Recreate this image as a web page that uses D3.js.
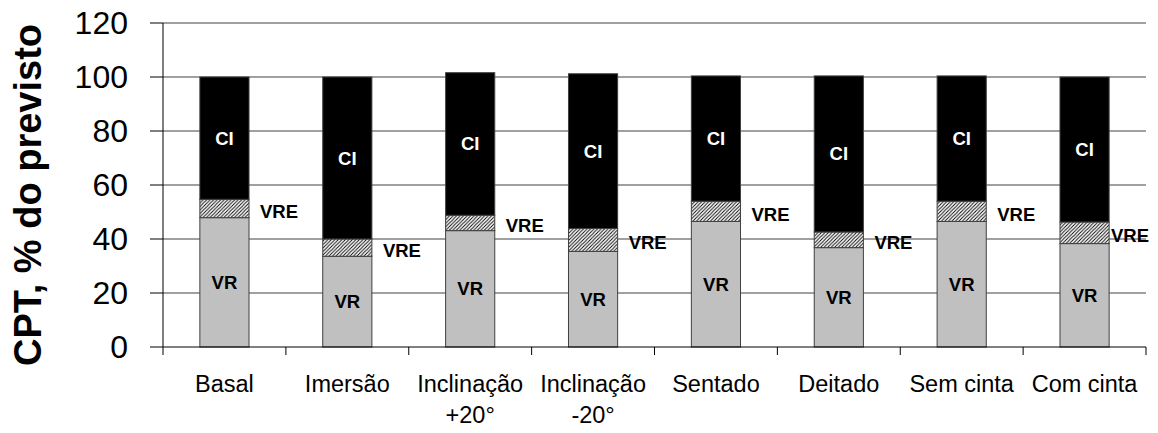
<!DOCTYPE html>
<html>
<head>
<meta charset="utf-8">
<script src="https://cdnjs.cloudflare.com/ajax/libs/d3/7.8.5/d3.min.js"></script>
<style>
  body { margin: 0; background: #fff; }
  svg { display: block; font-family: 'Liberation Sans', Arial, sans-serif; }
</style>
</head>
<body>
<div id="chart"></div>
<script>
// data
var categories = ['Basal', 'Imersão', 'Inclinação\n+20°', 'Inclinação\n-20°', 'Sentado', 'Deitado', 'Sem cinta', 'Com cinta'];
var vr  = [47.9, 33.6, 43.1, 35.4, 46.5, 36.8, 46.5, 38.3];
var vre = [6.8, 6.4, 5.7, 8.5, 7.5, 5.8, 7.5, 8.0];
var ci  = [45.3, 60.0, 52.8, 57.3, 46.4, 57.8, 46.4, 53.7];
var yTicks = [0, 20, 40, 60, 80, 100, 120];
var yTitle = 'CPT, % do previsto';

var W = 1158, H = 433;
var margin = {top: 23, right: 12, bottom: 86, left: 163},
    width = W - margin.left - margin.right,
    height = H - margin.top - margin.bottom;

var svg = d3.select('#chart').append('svg')
    .attr('width', W)
    .attr('height', H);

// hatch pattern for VRE
var defs = svg.append('defs');
defs.append('pattern')
    .attr('id', 'hatch')
    .attr('patternUnits', 'userSpaceOnUse')
    .attr('width', 3.5)
    .attr('height', 3.5)
  .call(function(p) {
    p.append('rect').attr('width', 3.5).attr('height', 3.5).attr('fill', '#fff');
    p.append('path')
      .attr('d', 'M-1,1 l2,-2 M0,3.5 l3.5,-3.5 M2.5,4.5 l2,-2')
      .attr('stroke', '#000')
      .attr('stroke-width', 0.9);
  });

var g = svg.append('g')
    .attr('transform', 'translate(' + margin.left + ',' + margin.top + ')');

var x = d3.scaleBand().domain(categories).range([0, width]).paddingInner(0.6).paddingOuter(0.3);
var y = d3.scaleLinear().domain([0, 120]).range([height, 0]);
var step = x.step();

// gridlines
g.selectAll('.grid')
    .data(yTicks.slice(1))
    .enter().append('line')
    .attr('x1', 0).attr('x2', width)
    .attr('y1', function(d) { return y(d); })
    .attr('y2', function(d) { return y(d); })
    .attr('stroke', '#808080')
    .attr('stroke-width', 1.3);

// stacked segments
var rows = categories.map(function(c, i) {
  return {cat: c, vr: vr[i], vre: vre[i], ci: ci[i]};
});
var stack = d3.stack().keys(['vr', 'vre', 'ci'])(rows);
var fills = {vr: '#c0c0c0', vre: 'url(#hatch)', ci: '#000'};

stack.forEach(function(layer) {
  g.selectAll('.seg-' + layer.key)
      .data(layer)
      .enter().append('rect')
      .attr('x', function(d) { return x(d.data.cat); })
      .attr('y', function(d) { return y(d[1]); })
      .attr('width', x.bandwidth())
      .attr('height', function(d) { return y(d[0]) - y(d[1]); })
      .attr('fill', fills[layer.key])
      .attr('stroke', '#404040')
      .attr('stroke-width', 1);
});

// labels inside bars
var labelFont = 'bold 18.5px "Liberation Sans", Arial, sans-serif';
[['vr', 'VR', '#000'], ['ci', 'CI', '#fff']].forEach(function(k) {
  var layer = stack.filter(function(l) { return l.key === k[0]; })[0];
  g.selectAll('.lab-' + k[0])
      .data(layer)
      .enter().append('text')
      .attr('x', function(d) { return x(d.data.cat) + x.bandwidth() / 2; })
      .attr('y', function(d) { return y((d[0] + d[1]) / 2); })
      .attr('text-anchor', 'middle')
      .attr('dominant-baseline', 'central')
      .style('font', labelFont)
      .attr('fill', k[2])
      .text(k[1]);
});

// VRE labels to the right of each bar
var vreLayer = stack.filter(function(l) { return l.key === 'vre'; })[0];
g.selectAll('.lab-vre')
    .data(vreLayer)
    .enter().append('text')
    .attr('y', function(d) { return y((d[0] + d[1]) / 2) + 3; })
    .attr('dominant-baseline', 'central')
    .style('font', labelFont)
    .attr('fill', '#000')
    .text('VRE')
    .attr('x', function(d) {
      var w = this.getComputedTextLength();
      var right = x(d.data.cat) + x.bandwidth();
      return Math.min(right + 11, W - margin.left - 9 - w);
    });

// y axis
g.append('line')
    .attr('x1', 0).attr('x2', 0)
    .attr('y1', y(120)).attr('y2', y(0))
    .attr('stroke', '#000');
g.selectAll('.ytick')
    .data(yTicks)
    .enter().append('line')
    .attr('x1', -13).attr('x2', 0)
    .attr('y1', function(d) { return y(d); })
    .attr('y2', function(d) { return y(d); })
    .attr('stroke', '#000');
g.selectAll('.ylab')
    .data(yTicks)
    .enter().append('text')
    .attr('x', -35)
    .attr('y', function(d) { return y(d); })
    .attr('text-anchor', 'end')
    .attr('dominant-baseline', 'central')
    .style('font-size', '32px')
    .attr('fill', '#000')
    .text(function(d) { return d; });

// x axis
g.append('line')
    .attr('x1', 0).attr('x2', width)
    .attr('y1', height).attr('y2', height)
    .attr('stroke', '#000');
g.selectAll('.xtick')
    .data(d3.range(categories.length + 1))
    .enter().append('line')
    .attr('x1', function(i) { return i * step; })
    .attr('x2', function(i) { return i * step; })
    .attr('y1', height).attr('y2', height + 8)
    .attr('stroke', '#000');

var xl = g.selectAll('.xlab')
    .data(categories)
    .enter().append('text')
    .attr('x', function(d) { return x(d) + x.bandwidth() / 2; })
    .attr('y', height + 45)
    .attr('text-anchor', 'middle')
    .style('font-size', '23.5px')
    .attr('fill', '#000');
xl.each(function(d) {
  var t = d3.select(this);
  d.split('\n').forEach(function(line, i) {
    t.append('tspan')
      .attr('x', t.attr('x'))
      .attr('dy', i === 0 ? 0 : 31)
      .text(line);
  });
});

// y axis title
svg.append('text')
    .attr('transform', 'translate(41,' + (margin.top + height / 2 + 10) + ') rotate(-90)')
    .attr('text-anchor', 'middle')
    .style('font', 'bold 38px "Liberation Sans", Arial, sans-serif')
    .attr('fill', '#000')
    .text(yTitle);
</script>
</body>
</html>
